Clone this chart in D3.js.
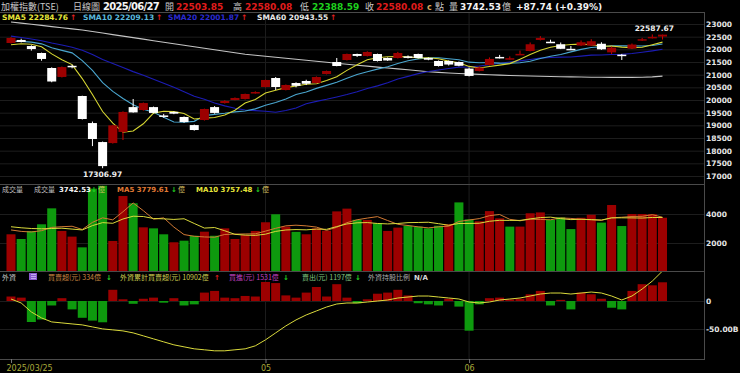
<!DOCTYPE html>
<html>
<head>
<meta charset="utf-8">
<script src="https://cdn.jsdelivr.net/npm/d3@7"></script>
<style>
html, body { margin: 0; padding: 0; background: #000; }
svg { display: block; }
</style>
</head>
<body>
<div id="chart"></div>
<script>
// trading days shown (2025/03/25 - 2025/06/27)
const dates = [
  "2025-03-25","2025-03-26","2025-03-27","2025-03-28","2025-03-31",
  "2025-04-01","2025-04-02","2025-04-07","2025-04-08","2025-04-09","2025-04-10","2025-04-11",
  "2025-04-14","2025-04-15","2025-04-16","2025-04-17","2025-04-18","2025-04-21","2025-04-22",
  "2025-04-23","2025-04-24","2025-04-25","2025-04-28","2025-04-29","2025-04-30",
  "2025-05-02","2025-05-05","2025-05-06","2025-05-07","2025-05-08","2025-05-09","2025-05-12",
  "2025-05-13","2025-05-14","2025-05-15","2025-05-16","2025-05-19","2025-05-20","2025-05-21",
  "2025-05-22","2025-05-23","2025-05-26","2025-05-27","2025-05-28","2025-05-29",
  "2025-06-02","2025-06-03","2025-06-04","2025-06-05","2025-06-06","2025-06-09","2025-06-10",
  "2025-06-11","2025-06-12","2025-06-13","2025-06-16","2025-06-17","2025-06-18","2025-06-19",
  "2025-06-20","2025-06-23","2025-06-24","2025-06-25","2025-06-26","2025-06-27"
];

const opens = [22250,22370,22130,21855,21263,20910,21350,20158,19090,18340,18300,18740,
  19720,19605,19720,19390,19530,19330,19010,19210,19720,19880,20000,20040,20276,
  20513,20868,20395,20670,20750,20670,21026,21500,21579,21816,21737,21816,21658,21658,
  21720,21816,21658,21540,21540,21500,21240,21145,21380,21700,21620,21800,21934,
  22370,22300,22200,22020,22150,22150,22220,21880,21790,22030,22360,22470,22503.85];
const highs = [22480,22420,22160,21870,21290,21320,21390,20170,19150,18360,19020,19550,
  20040,19900,19740,19450,19550,19350,19030,19660,19760,19990,20100,20250,20340,
  20800,20907,20610,20700,20800,20930,21160,21658,21830,21830,21920,21830,21680,21900,
  21760,21830,21680,21560,21560,21520,21280,21320,21680,21780,21720,21950,22270,
  22520,22380,22270,22130,22350,22400,22280,22110,21820,22230,22450,22587.67,22580.08];
const lows = [22230,22270,21950,21550,20700,20890,21250,19230,18180,17306.97,18280,18420,
  19500,19580,19470,19300,19440,19100,18790,19190,19460,19860,19990,20020,20250,
  20500,20395,20380,20500,20590,20650,21010,21330,21560,21700,21720,21520,21540,21640,
  21640,21640,21570,21320,21360,21330,20930,21130,21360,21640,21600,21780,21920,
  22350,22260,22010,21970,22130,22130,21980,21816,21580,22010,22330,22430,22388.59];
const closes = [22450,22290,22010,21620,20730,21300,21330,19250,18460,17391,19000,19528,
  19510,19880,19490,19370,19460,19130,18815,19645,19490,19960,20080,20237,20315,
  20790,20513,20592,20560,20640,20907,21145,21342,21816,21740,21895,21540,21560,21855,
  21690,21658,21590,21342,21400,21350,20950,21280,21620,21680,21650,21820,22200,
  22450,22276.1,22020,22000,22280,22320,22000,22067.5,21761.38,22190,22400,22492.34,22580.08];

// moving-average values before a full window exists
const sma5Head = [22180,22218,22200,22104];
const sma10Head = [22315,22314,22285,22217,22060,21960,21860,21555,21171];
const sma20Head = [22520,22470,22410,22340,22250,22170,22080,21960,21800,21600,
  21440,21280,21120,20975,20820,20660,20500,20330,20150];
const sma60 = [23079,23036,22988,22945,22897,22854,22807,22763,22704,22645,22582,22522,
  22463,22404,22341,22281,22222,22163,22100,22041,21981,21922,21863,21804,21764,
  21725,21685,21646,21606,21567,21527,21488,21449,21413,21373,21338,21298,21263,21227,
  21192,21152,21117,21090,21068,21048,21030,21012,20996,20982,20970,20958,20948,
  20938,20928,20920,20912,20905,20900,20896,20894,20893,20892,20898,20913,20943.55];

// volume (億)
const volumes = [2600,2276,2830,3290,4390,2830,2440,1700,5750,5950,2140,5240,
  4740,3080,3010,2600,2050,2160,2500,2780,2500,3010,2276,2550,2830,
  3430,3980,3130,2770,2600,3010,2850,4180,4370,3600,3590,3360,2830,3060,
  3190,3130,3010,3190,3290,4800,3630,3500,4200,3700,3130,3130,4050,
  4110,3590,3770,2960,3740,3950,3406.75,4620,3170,4000,4000,3985.52,3742.53];
const volMa5Head = [2900,2800,2760,2850];
const volMa10Head = [3120,3050,3000,2980,3000,3020,2960,2900,3200];

// foreign investors net buy/sell (億) and cumulative (億)
const foreignNet = [80,60,-375,-330,-80,50,-150,-300,-350,-380,200,30,
  -50,40,60,-30,50,-80,-60,150,180,60,50,90,80,
  340,320,100,60,150,250,80,300,60,-40,30,130,150,200,
  100,-40,-60,-80,40,-100,-530,-60,50,60,30,40,120,
  180,-80,20,-150,150,120,40,-120,-150,180,300,280,334];
const foreignCum = [9873,9727,9397,9178,9031,8995,8958,8922,8848,8775,8739,8702,
  8629,8519,8409,8299,8190,8116,8043,8007,7970,7970,8007,8043,8153,
  8373,8629,8885,9105,9288,9434,9580,9690,9727,9727,9763,9800,9837,9910,
  9946,9983,9983,9946,9910,9873,9763,9727,9763,9837,9873,9910,9983,
  10056,10093,10093,10056,10093,10129,10093,9983,9837,9983,10239,10532,10902];
const foreignBuy = 1531, foreignSell = 1197;

const priceTicks = d3.range(17000, 23001, 500);
const volTicks = [2000, 4000];
const foreignTicks = [-500, 0];
const monthTicks = [dates[0], dates[25], dates[45]];

const n = dates.length;
const movingAvg = (vals, k, head) =>
  vals.map((v, i) => i < k - 1 ? head[i] : d3.mean(vals.slice(i - k + 1, i + 1)));

const sma5 = movingAvg(closes, 5, sma5Head);
const sma10 = movingAvg(closes, 10, sma10Head);
const sma20 = movingAvg(closes, 20, sma20Head);
const volMa5 = movingAvg(volumes, 5, volMa5Head);
const volMa10 = movingAvg(volumes, 10, volMa10Head);

const W = 740, H = 373, plotRight = 704;
const RED = "#9c0000", RED_WICK = "#d00000", GREEN = "#0e9a0e";
const NUM = "'DejaVu Sans', sans-serif";
const CJK = "'Noto Sans CJK TC', sans-serif";

const svg = d3.select("#chart").append("svg")
    .attr("width", W).attr("height", H)
    .style("background", "#000");

// clip rects for the three panels
const defs = svg.append("defs");
[["clipP", 12, 184], ["clipV", 185, 271], ["clipF", 272, 359]].forEach(([id, t, b]) => {
    defs.append("clipPath").attr("id", id)
        .append("rect").attr("x", 0).attr("y", t).attr("width", plotRight).attr("height", b - t);
});

// scales
const x = d3.scalePoint().domain(dates).range([11, 662.5]);
const y = d3.scaleLinear().domain([17000, 23000]).range([176, 24]);
const yv = d3.scaleLinear().domain([0, 4000]).range([272, 214]);
const yf = d3.scaleLinear().domain([-500, 0]).range([329, 301]);
const yc = d3.scaleLinear().domain([9800, 10902]).range([301, 271]);
const bw = 9;

// grid + right axes
function rightAxis(scale, ticks, fmt) {
    svg.append("g")
        .attr("transform", `translate(${plotRight},0)`)
        .call(d3.axisRight(scale).tickValues(ticks).tickSize(-plotRight).tickPadding(2).tickFormat(fmt))
        .call(g => g.select(".domain").remove())
        .call(g => g.selectAll(".tick line").attr("stroke", "#1d1d1d"))
        .call(g => g.selectAll(".tick text").attr("fill", "#e6e6e6")
            .style("font", `bold 7.5px ${NUM}`));
}
rightAxis(y, priceTicks, d3.format("d"));
rightAxis(yv, volTicks, d3.format("d"));
rightAxis(yf, foreignTicks, d => d === 0 ? "0" : (d / 10).toFixed(2) + "B");

// month gridlines
svg.append("g").selectAll("line").data(monthTicks.slice(1)).join("line")
    .attr("x1", d => x(d)).attr("x2", d => x(d))
    .attr("y1", 12).attr("y2", 359)
    .attr("stroke", "#1d1d1d");

// frame
const frame = svg.append("g").attr("stroke", "#4a4a4a").attr("fill", "none");
frame.append("line").attr("x1", 0).attr("x2", plotRight + 0.5).attr("y1", 12.5).attr("y2", 12.5);
[184.5, 271.5, 359.5].forEach(v =>
    frame.append("line").attr("x1", 0).attr("x2", plotRight + 0.5).attr("y1", v).attr("y2", v));
frame.append("line").attr("x1", plotRight + 0.5).attr("x2", plotRight + 0.5).attr("y1", 12).attr("y2", 360);

// x axis
svg.append("g")
    .attr("transform", "translate(0,359)")
    .call(d3.axisBottom(x).tickValues(monthTicks).tickSize(4).tickPadding(2)
        .tickFormat(d => d === dates[0] ? "2025/03/25" : d.slice(5, 7)))
    .call(g => g.select(".domain").remove())
    .call(g => g.selectAll(".tick line").attr("stroke", "#777"))
    .call(g => g.selectAll(".tick text").attr("fill", "#a9a93a").style("font", `8px ${NUM}`))
    .call(g => g.select(".tick text").attr("text-anchor", "start").attr("x", -5));

// ---------- price panel ----------
const gP = svg.append("g").attr("clip-path", "url(#clipP)");
const line = d3.line().x((d, i) => x(dates[i])).y(d => y(d));
[[sma60, "#c4c4c4"], [sma20, "#1c1cb4"], [sma10, "#4aa6cf"], [sma5, "#d6d632"]].forEach(([s, c]) => {
    gP.append("path").datum(s).attr("d", line)
        .attr("fill", "none").attr("stroke", c).attr("stroke-width", 1.1);
});

const candles = gP.selectAll("g.candle").data(d3.range(n)).join("g").attr("class", "candle");
candles.append("line")
    .attr("x1", i => x(dates[i])).attr("x2", i => x(dates[i]))
    .attr("y1", i => y(highs[i])).attr("y2", i => y(lows[i]))
    .attr("stroke", i => closes[i] >= opens[i] ? RED_WICK : "#fff");
candles.append("rect")
    .attr("x", i => x(dates[i]) - bw / 2)
    .attr("width", bw)
    .attr("y", i => y(Math.max(opens[i], closes[i])))
    .attr("height", i => Math.max(1.5, Math.abs(y(opens[i]) - y(closes[i]))))
    .attr("fill", i => closes[i] >= opens[i] ? RED : "#fff");

const iLow = d3.minIndex(lows), iHigh = d3.maxIndex(highs);
svg.append("text").attr("x", x(dates[iLow])).attr("y", 177).attr("text-anchor", "middle")
    .attr("fill", "#eee").style("font", `bold 7.5px ${NUM}`).text(d3.format(".2f")(lows[iLow]));
svg.append("text").attr("x", x(dates[iHigh]) + 2).attr("y", 31).attr("text-anchor", "middle")
    .attr("fill", "#eee").style("font", `bold 7.5px ${NUM}`).text(d3.format(".2f")(highs[iHigh]));

// ---------- volume panel ----------
const gV = svg.append("g").attr("clip-path", "url(#clipV)");
const isUp = i => i === 0 ? closes[i] >= opens[i] : closes[i] >= closes[i - 1];
gV.selectAll("rect").data(d3.range(n)).join("rect")
    .attr("x", i => x(dates[i]) - bw / 2).attr("width", bw)
    .attr("y", i => yv(volumes[i])).attr("height", i => yv(0) - yv(volumes[i]))
    .attr("fill", i => isUp(i) ? RED : GREEN);
const vline = d3.line().x((d, i) => x(dates[i])).y(d => yv(d));
gV.append("path").datum(volMa5).attr("d", vline).attr("fill", "none").attr("stroke", "#d27a34");
gV.append("path").datum(volMa10).attr("d", vline).attr("fill", "none").attr("stroke", "#dada3c");

// ---------- foreign investors panel ----------
const gF = svg.append("g").attr("clip-path", "url(#clipF)");
gF.selectAll("rect").data(d3.range(n)).join("rect")
    .attr("x", i => x(dates[i]) - bw / 2).attr("width", bw)
    .attr("y", i => Math.min(yf(0), yf(foreignNet[i])))
    .attr("height", i => Math.abs(yf(foreignNet[i]) - yf(0)))
    .attr("fill", i => foreignNet[i] >= 0 ? RED : GREEN);
gF.append("path").datum(foreignCum)
    .attr("d", d3.line().x((d, i) => x(dates[i])).y(d => yc(d)))
    .attr("fill", "none").attr("stroke", "#dada3c");

// ---------- legends ----------
function label(parent, px, py, txt, color, font) {
    return parent.append("text").attr("x", px).attr("y", py).attr("fill", color)
        .style("font", font).text(txt);
}
const L = svg.append("g");
const big = `bold 9px ${NUM}`, cj = `9px ${CJK}`;
const f2 = d3.format(".2f");
label(L, 1, 10, "加權指數(TSE)", "#c8c8c8", cj);
label(L, 73, 10, "日線圖", "#c8c8c8", cj);
label(L, 103, 10, "2025/06/27", "#f4f4f4", `bold 10px ${NUM}`).style("letter-spacing", "-0.7px");
label(L, 165, 10, "開", "#c8c8c8", cj);
label(L, 176, 10, f2(opens[n - 1]), "#e01c1c", big);
label(L, 233, 10, "高", "#c8c8c8", cj);
label(L, 245, 10, f2(highs[n - 1]), "#e01c1c", big);
label(L, 300, 10, "低", "#c8c8c8", cj);
label(L, 312, 10, f2(lows[n - 1]), "#1ed21e", big);
label(L, 365, 10, "收", "#c8c8c8", cj);
label(L, 376, 10, f2(closes[n - 1]), "#e01c1c", big);
label(L, 427, 10, "c", "#d9a860", `bold 8px ${NUM}`);
label(L, 435, 10, "點", "#c8c8c8", cj);
label(L, 449, 10, "量", "#c8c8c8", cj);
label(L, 460, 10, f2(volumes[n - 1]), "#f4f4f4", big);
label(L, 502, 10, "億", "#c8c8c8", cj);
const chg = closes[n - 1] - closes[n - 2];
label(L, 516, 10, `+${chg.toFixed(2)} (+${(chg / closes[n - 2] * 100).toFixed(2)}%)`, "#f4f4f4", big);

const sm = `bold 7.5px ${NUM}`;
const up = "↑", dn = "↓";
[[2, "SMA5 ", sma5, "#e6e63a"], [83, "SMA10 ", sma10, "#5ab8dc"],
 [168, "SMA20 ", sma20, "#2a2ad0"], [257, "SMA60 ", sma60, "#e8e8e8"]].forEach(([px, name, s, c]) => {
    const t = label(L, px, 20, name + f2(s[n - 1]), c, sm);
    t.append("tspan").attr("fill", "#e02020").attr("dx", 2).text(s[n - 1] >= s[n - 2] ? up : dn);
});

// volume legend
const vy = 192, vs = `bold 7px ${NUM}`, cjs = `7px ${CJK}`;
label(L, 2, vy, "成交量", "#bdbdbd", cjs);
label(L, 34, vy, "成交量", "#bdbdbd", cjs);
label(L, 59, vy, f2(volumes[n - 1]), "#f4f4f4", vs);
label(L, 91, vy, dn, "#20d020", vs);
label(L, 98, vy, "億", "#d8c060", cjs);
label(L, 117, vy, "MA5 " + f2(volMa5[n - 1]), "#e07a34", vs);
label(L, 171, vy, dn, "#20d020", vs);
label(L, 178, vy, "億", "#d8c060", cjs);
label(L, 196, vy, "MA10 " + f2(volMa10[n - 1]), "#e6e63a", vs);
label(L, 255, vy, dn, "#20d020", vs);
label(L, 262, vy, "億", "#d8c060", cjs);

// foreign legend
const fy = 280;
label(L, 2, fy, "外資", "#c8c8c8", cjs);
L.append("rect").attr("x", 29).attr("y", 273).attr("width", 8).attr("height", 7).attr("fill", "#8a5ad0");
[275, 277, 279].forEach(v => L.append("line").attr("x1", 31).attr("x2", 36).attr("y1", v - 0.5).attr("y2", v - 0.5)
    .attr("stroke", "#e8e0ff").attr("stroke-width", 0.6));
label(L, 48, fy, `買賣超(元) ${foreignNet[n - 1]}億`, "#c88640", cjs);
label(L, 106, fy, dn, "#20d020", vs);
label(L, 120, fy, `外資累計買賣超(元) ${foreignCum[n - 1]}億`, "#cfcf50", cjs);
label(L, 214, fy, up, "#e02020", vs);
label(L, 229, fy, `買進(元) ${foreignBuy}億`, "#c040c0", cjs);
label(L, 283, fy, dn, "#20d020", vs);
label(L, 302, fy, `賣出(元) ${foreignSell}億`, "#80c880", cjs);
label(L, 355, fy, dn, "#20d020", vs);
label(L, 368, fy, "外資持股比例", "#a8a8a8", cjs);
label(L, 414, fy, "N/A", "#d8d8d8", vs);
</script>
</body>
</html>
